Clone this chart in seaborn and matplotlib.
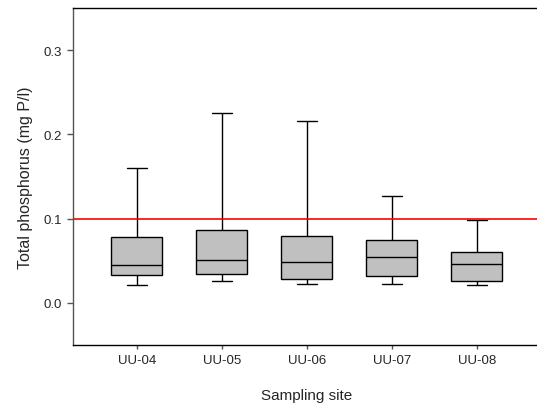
import numpy as np
import pandas as pd
import matplotlib
matplotlib.use("Agg")
import matplotlib.pyplot as plt
import seaborn as sns

# Five-number summaries per site (lower whisker, Q1, median, Q3, upper whisker)
sites = ["UU-04", "UU-05", "UU-06", "UU-07", "UU-08"]
lower = [0.0214, 0.0257, 0.0221, 0.0221, 0.0214]
q1 = [0.0336, 0.0344, 0.0285, 0.0320, 0.0261]
median = [0.0447, 0.0514, 0.0482, 0.0549, 0.0459]
q3 = [0.0787, 0.0862, 0.0795, 0.0747, 0.0601]
upper = [0.1600, 0.2250, 0.2163, 0.1270, 0.0980]
limit = 0.1

rows = []
for i, s in enumerate(sites):
    for v in (lower[i], q1[i], median[i], q3[i], upper[i]):
        rows.append({"site": s, "tp": v})
df = pd.DataFrame(rows)

sns.set_style("ticks")
plt.rcParams["font.family"] = ["Liberation Sans", "DejaVu Sans"]

fig = plt.figure(figsize=(5.37, 4.06), dpi=100)
ax = fig.add_axes([0.1354, 0.1478, 0.872, 0.830])

sns.boxplot(data=df, x="site", y="tp", order=sites, whis=(0, 100), width=0.6,
            color="#c0c0c0", linecolor="black", linewidth=1.0, saturation=1,
            capwidths=0.24, ax=ax)
ax.axhline(limit, color="red", lw=1.2, zorder=5)

ax.set_xlim(-0.755, 4.755)
ax.set_ylim(-0.05, 0.35)
ax.set_yticks([0.0, 0.1, 0.2, 0.3])
ax.set_yticklabels(["0.0", "0.1", "0.2", "0.3"])
ax.tick_params(axis="both", labelsize=9.5, length=4, width=1, color="#555555")
ax.tick_params(axis="x", length=3)
ax.set_xlabel("Sampling site", fontsize=11, labelpad=16)
ax.set_ylabel("Total phosphorus (mg P/l)", fontsize=11.5, labelpad=8)
for side in ["left", "top", "bottom", "right"]:
    ax.spines[side].set_linewidth(1.0)
ax.spines["left"].set_color("#555555")
ax.spines["top"].set_color("black")
ax.spines["bottom"].set_color("black")
ax.spines["right"].set_visible(False)

fig.savefig("out.png", dpi=100)
